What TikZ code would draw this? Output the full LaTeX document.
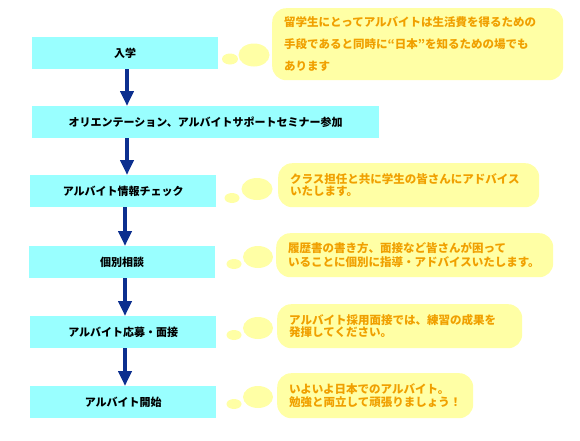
\documentclass[tikz,border=0pt]{standalone}
\usepackage{fontspec}
\newfontfamily\jp{Noto Sans CJK JP}
\usetikzlibrary{arrows.meta,shapes.geometric}
\definecolor{boxcyan}{HTML}{99FFFF}
\definecolor{bubyellow}{HTML}{FFFFA5}
\definecolor{txtorange}{HTML}{F0A000}
\definecolor{arrblue}{HTML}{0C2F8F}
\tikzset{
  stepbox/.style={fill=boxcyan, draw=none, minimum height=32pt, inner sep=0pt, anchor=north west,
    font={\jp\bfseries\fontsize{11}{13}\selectfont}, text=black},
  bubble/.style={fill=bubyellow, draw=none, rounded corners=14pt, anchor=north west, inner ysep=0pt,
    inner xsep=12pt, align=left, text=txtorange, font={\jp\bfseries\fontsize{11.5}{12.5}\selectfont}},
  puff/.style={ellipse, fill=bubyellow, draw=none, inner sep=0pt},
  flow/.style={draw=arrblue, line width=4pt, -{Triangle[width=13pt,length=15pt]}},
}
\begin{document}
\begin{tikzpicture}[x=1pt,y=-1pt]
\path[use as bounding box, fill=white] (0,0) rectangle (580,440);
% steps
\node[stepbox, minimum width=186pt] (s1) at (32,37) {入学};
\node[stepbox, minimum width=347pt] (s2) at (32,106) {オリエンテーション、アルバイトサポートセミナー参加};
\node[stepbox, minimum width=186pt] (s3) at (30,175) {アルバイト情報チェック};
\node[stepbox, minimum width=186pt] (s4) at (29,246) {個別相談};
\node[stepbox, minimum width=186pt] (s5) at (30,316) {アルバイト応募・面接};
\node[stepbox, minimum width=186pt] (s6) at (30,386) {アルバイト開始};
% arrows
\draw[flow] (s1.south -| 127,0) -- (s2.north -| 127,0);
\draw[flow] (s2.south -| 127,0) -- (s3.north -| 127,0);
\draw[flow] (s3.south -| 125,0) -- (s4.north -| 125,0);
\draw[flow] (s4.south -| 125,0) -- (s5.north -| 125,0);
\draw[flow] (s5.south -| 125,0) -- (s6.north -| 125,0);
% bubbles
\node[bubble, minimum height=72pt, text width=267pt, font={\jp\bfseries\fontsize{11.5}{22}\selectfont}] (b1) at (272,8)
  {留学生にとってアルバイトは生活費を得るための\\手段であると同時に“日本”を知るための場でも\\あります};
\node[bubble, minimum height=44pt, text width=237pt] (b2) at (278,163)
  {クラス担任と共に学生の皆さんにアドバイス\\いたします。};
\node[bubble, minimum height=44pt, text width=253pt, font={\jp\bfseries\fontsize{11.5}{14}\selectfont}] (b3) at (276,233)
  {履歴書の書き方、面接など皆さんが困って\\いることに個別に指導・アドバイスいたします。};
\node[bubble, minimum height=44pt, text width=221pt] (b4) at (277,304)
  {アルバイト採用面接では、練習の成果を\\発揮してください。};
\node[bubble, minimum height=45pt, text width=172pt] (b5) at (277,373)
  {いよいよ日本でのアルバイト。\\勉強と両立して頑張りましょう！};
% thought puffs
\node[puff, minimum width=16pt, minimum height=11pt] (p1a) at (230,59) {};
\node[puff, minimum width=31pt, minimum height=23pt] (p1b) at (254,55) {};
\node[puff, minimum width=15pt, minimum height=10pt] (p2a) at (232,198) {};
\node[puff, minimum width=31pt, minimum height=22pt] (p2b) at (257,189) {};
\node[puff, minimum width=15pt, minimum height=10pt] (p3a) at (234,264) {};
\node[puff, minimum width=30pt, minimum height=22pt] (p3b) at (258,257) {};
\node[puff, minimum width=15pt, minimum height=10pt] (p4a) at (234,335) {};
\node[puff, minimum width=30pt, minimum height=22pt] (p4b) at (258,328) {};
\node[puff, minimum width=15pt, minimum height=10pt] (p5a) at (234,404) {};
\node[puff, minimum width=30pt, minimum height=22pt] (p5b) at (258,397) {};
\end{tikzpicture}
\end{document}
